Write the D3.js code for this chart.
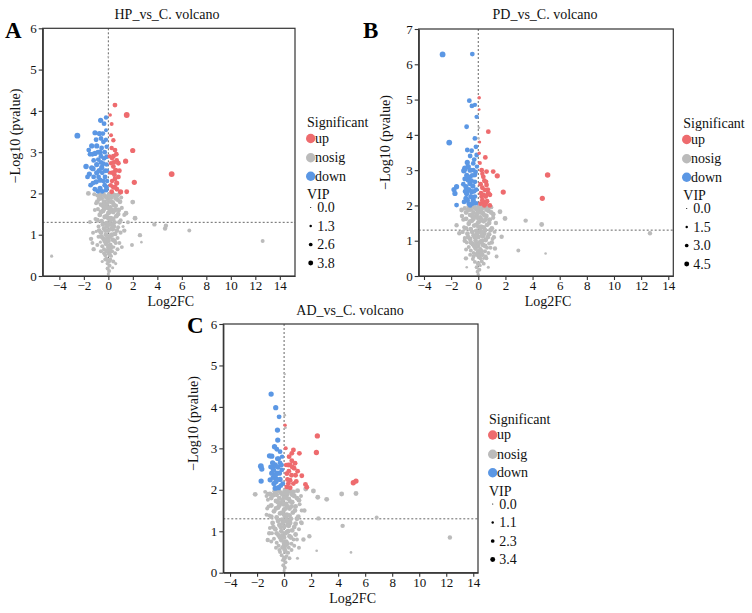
<!DOCTYPE html>
<html>
<head>
<meta charset="utf-8">
<script src="https://cdn.jsdelivr.net/npm/d3@7/dist/d3.min.js"></script>
<style>
  html, body { margin: 0; padding: 0; background: #fff; }
  svg { display: block; font-family: "Liberation Serif", "Times New Roman", serif; }
</style>
</head>
<body>
<svg id="chart" width="752" height="613"></svg>
<script>
// ---------------- DATA ----------------
const xTicks = [-4, -2, 0, 2, 4, 6, 8, 10, 12, 14];
const yTicksA = [0, 1, 2, 3, 4, 5, 6];
const yTicksB = [0, 1, 2, 3, 4, 5, 6, 7];
const yTicksC = [0, 1, 2, 3, 4, 5, 6];
const sigLevels = ["up", "nosig", "down"];
const vipBreaksA = ["0.0", "1.3", "2.6", "3.8"];
const vipBreaksB = ["0.0", "1.5", "3.0", "4.5"];
const vipBreaksC = ["0.0", "1.1", "2.3", "3.4"];
const pThreshold = 1.3;   // -log10(0.05)

// points: [log2FC, -log10(p), VIP]
const upA = [[0.54,4.14,3.0],[1.50,3.90,3.8],[0.27,3.68,2.2],[0.22,3.41,2.2],[0.41,3.29,2.6],[1.99,3.04,3.3],[0.54,3.05,3.0],[0.41,2.90,3.0],[0.68,2.80,3.0],[1.41,2.78,3.3],[0.82,2.73,3.0],[0.41,2.65,3.0],[0.60,2.56,3.3],[0.82,2.40,3.0],[0.54,2.35,3.0],[5.17,2.47,3.8],[2.12,2.27,3.3],[0.68,2.25,3.3],[1.00,2.04,3.3],[1.50,2.04,3.0],[0.41,2.15,3.0],[0.27,2.04,3.0],[0.22,2.73,2.6],[0.27,3.10,2.6],[0.15,2.50,2.2],[0.30,2.30,2.6],[0.90,2.55,3.0],[0.15,3.90,1.8],[0.10,2.90,2.2],
[0.50,2.45,3.0],[0.35,2.50,3.0],[0.70,2.10,3.0],[0.45,2.75,3.0],[0.30,2.85,2.6],[0.65,2.95,3.0],[0.20,2.20,2.6],[0.55,2.15,3.0]];
const downA = [[-2.53,3.40,3.85],[-0.63,3.77,3.3],[-0.19,3.84,2.6],[-0.35,3.69,3.0],[-1.09,3.47,3.3],[-0.73,3.45,3.3],[-0.60,3.33,3.0],[-0.19,3.53,2.2],[-1.36,3.15,3.3],[-0.95,3.15,3.3],[-0.40,3.25,3.0],[-1.50,2.95,3.0],[-1.09,2.97,3.3],[-0.68,3.00,3.3],[-0.14,3.13,2.6],[-1.82,2.65,3.5],[-1.36,2.62,3.3],[-1.55,2.47,3.3],[-0.95,2.50,3.3],[-0.54,2.63,3.3],[-1.00,2.28,3.3],[-0.68,2.32,3.3],[-0.27,2.40,3.0],[-0.68,2.12,3.3],[-0.19,2.08,3.0],[-0.41,2.72,3.0],[-0.14,2.89,3.0],[-0.82,2.82,3.0],[-0.30,2.20,3.0],[-0.50,2.05,3.0],[-0.25,2.55,3.0],[-0.85,2.05,3.0],[-1.20,2.40,3.0],[-0.60,2.90,3.0],[-0.30,3.00,3.0],[-0.50,2.50,3.0],[-0.10,2.30,2.6],[-0.15,2.70,2.6],[-1.20,2.80,3.0],[-0.45,3.45,3.0],[-0.20,3.30,2.6],
[-1.60,3.05,3.0],[-1.25,2.60,3.3],[-1.70,2.40,3.0],[-1.45,2.20,3.0],[-1.10,2.10,3.0],[-0.95,2.70,3.3],[-0.75,2.55,3.3],[-1.00,3.30,3.0],[-0.55,3.10,3.0],[-0.35,2.85,3.0],[-0.10,2.55,2.6],[-0.40,2.30,3.0],[-0.60,2.75,3.0],[-1.30,2.95,3.0],[-0.85,3.00,3.0],[-0.15,2.15,3.0],[-1.25,2.25,3.0],[-0.80,2.40,3.0]];
const nosigA = [[0.00,5.31,0.4],[0.05,5.02,0.4],[0.05,4.82,0.4],[0.02,4.50,0.3],[-1.63,2.00,3.0],[1.99,1.79,3.0],[2.18,1.40,3.0],[1.44,1.52,3.0],[3.76,1.25,2.6],[4.63,1.15,2.6],[4.70,1.22,2.6],[6.61,1.10,2.2],[12.60,0.85,2.2],[-4.63,0.48,1.5],[2.58,0.99,2.6],[2.70,0.82,1.0],[1.93,0.75,2.2],[-1.41,0.90,2.6],[-1.50,1.31,2.2],[-1.30,0.80,2.2],[-1.20,0.65,2.6],[1.30,1.10,2.6],[1.60,1.30,2.2],[-1.25,1.05,2.2],[1.10,0.70,2.2],[0.60,0.30,1.5],[-0.50,0.35,1.5],[0.35,0.20,1.5],
[0.00,0.05,1.5],[0.06,0.12,2.3],[-0.06,0.18,2.3],[0.10,0.25,2.3],[-0.10,0.30,1.5],[0.02,0.35,3.0],[0.15,0.40,2.3],[-0.15,0.42,2.3],[0.25,0.48,1.5],[-0.25,0.50,2.3],
[0.05,0.55,3.0],[-0.05,0.62,3.0],[0.30,0.60,2.3],[-0.35,0.65,2.3],[0.45,0.70,1.5],[-0.50,0.72,2.3],[0.15,0.75,3.0],[-0.20,0.78,3.0],[0.60,0.80,2.3],[-0.65,0.82,1.5],
[0.00,0.85,3.0],[0.35,0.88,3.0],[-0.40,0.90,3.0],[0.75,0.92,2.3],[-0.80,0.95,2.3],[0.20,0.98,3.0],[-0.20,1.00,3.0],[0.55,1.02,3.0],[-0.60,1.05,3.0],[1.00,1.05,2.3],[-1.00,1.08,1.5],[0.00,1.10,3.0],
[0.35,1.13,3.0],[-0.35,1.15,3.0],[0.80,1.18,2.3],[-0.80,1.20,2.3],[1.20,1.20,1.5],[0.10,1.25,3.0],[-0.15,1.28,3.0],[0.50,1.30,3.0],[-0.55,1.33,3.0],[1.00,1.35,2.3],[-1.05,1.38,2.3],[0.20,1.40,3.0],[-0.30,1.43,3.0],[0.65,1.45,3.0],[-0.70,1.48,3.0],[1.30,1.48,2.3],
[0.00,1.52,3.0],[0.40,1.55,3.0],[-0.45,1.57,3.0],[0.85,1.60,3.0],[-0.85,1.62,2.3],[0.15,1.66,3.0],[-0.20,1.69,3.0],[0.60,1.70,3.0],[-0.60,1.73,3.0],[-1.00,1.76,2.3],[0.35,1.78,3.0],[-0.35,1.80,3.0],[0.00,1.83,3.0],[0.75,1.85,3.0],[-0.75,1.87,3.0],[0.25,1.90,3.0],[-0.25,1.93,3.0],[0.50,1.96,3.0],[-0.50,1.98,3.0],[0.05,1.97,3.0],[-0.90,1.95,2.3],[0.85,1.98,2.3],
[0.10,0.65,3.0],[-0.10,0.90,3.0],[0.10,1.55,3.0],[-0.10,1.20,3.0],[0.45,1.20,3.0],[-0.45,1.70,3.0],[0.25,1.60,3.0],[-0.25,0.40,2.3],[0.30,1.00,3.0],[0.20,1.80,3.0],[-0.15,1.90,3.0],[0.15,1.35,3.0],
[0.40,0.35,2.3],[-0.35,0.55,2.3],[0.55,0.55,2.3],[-0.60,0.60,2.3],[0.75,0.65,2.3],[0.25,0.70,3.0],[-0.30,0.85,3.0],[0.50,0.85,3.0],[-0.55,0.95,3.0],[0.90,0.80,2.3],[-0.90,0.75,2.3],[0.10,0.95,3.0],[0.70,1.10,3.0],[-0.75,1.10,3.0],[0.25,1.15,3.0],[-0.45,1.25,3.0],[0.90,1.30,3.0],[-0.90,1.35,3.0],[0.40,1.38,3.0],[-0.15,1.45,3.0],[0.80,1.50,3.0],[-0.60,1.55,3.0],[0.55,1.60,3.0],[-0.35,1.62,3.0],[1.10,1.65,2.3],[-1.10,1.60,2.3],[0.45,1.72,3.0],[-0.90,1.80,3.0],[0.95,1.80,3.0],[-0.55,1.88,3.0],[0.60,1.88,3.0],[-0.10,1.75,3.0],[0.10,1.92,3.0],[-0.70,1.96,3.0],[0.70,1.95,3.0],[-0.40,1.98,3.0],[0.35,1.98,3.0],[-1.15,1.98,2.3],[1.05,1.90,2.3],[0.00,0.70,3.0],[0.00,1.40,3.0],[-0.05,1.65,3.0],[0.30,1.25,3.0],[-0.25,1.10,3.0],[0.15,0.50,2.3],[-0.15,0.60,2.3]];

const upB = [[0.07,5.05,2.1],[0.07,4.72,1.2],[0.74,4.09,3.5],[0.52,3.36,3.5],[0.07,3.48,2.1],[1.10,2.96,3.5],[1.40,2.84,3.9],[5.11,2.86,4.2],[1.84,2.38,3.9],[4.72,2.20,3.9],[0.61,2.96,3.5],[0.25,3.00,3.5],[0.37,2.81,3.5],[0.57,2.67,3.5],[0.74,2.34,3.9],[0.49,2.44,3.5],[0.25,2.25,3.5],[0.37,2.10,3.5],[0.61,2.58,3.5],[0.86,2.30,3.5],[0.17,2.60,3.5],[0.17,2.05,3.5],[0.65,2.12,3.5],[0.30,2.90,3.1],[0.12,3.20,2.6],[0.45,2.00,3.5],[0.85,2.00,3.5],[0.10,3.80,1.7],
[0.40,2.30,3.5],[0.55,2.25,3.5],[0.30,2.50,3.5],[0.45,2.70,3.5],[0.20,2.35,3.5],[0.70,2.45,3.5],[0.55,2.05,3.5],[0.30,2.15,3.5]];
const downB = [[-2.63,6.28,4.5],[-0.44,6.29,3.5],[-0.66,4.97,3.5],[-0.47,4.82,3.5],[-0.25,4.85,3.1],[-0.12,4.51,3.1],[-0.86,4.23,3.5],[-2.14,3.78,4.5],[-0.25,3.90,3.5],[-0.17,3.66,3.5],[-0.81,3.57,3.5],[-0.49,3.55,3.5],[-0.12,3.43,3.5],[-0.81,3.22,3.9],[-0.37,3.19,3.5],[-0.98,3.05,4.5],[-1.06,2.98,4.2],[-0.74,3.10,3.9],[-0.37,3.00,3.5],[-0.25,2.86,3.5],[-0.61,2.81,3.5],[-1.60,2.53,3.9],[-1.79,2.45,3.9],[-1.72,2.34,3.9],[-1.60,2.01,3.5],[-0.86,2.34,3.9],[-0.81,2.15,3.9],[-0.91,2.53,3.9],[-0.61,2.62,3.9],[-0.25,2.67,3.5],[-0.49,2.39,3.9],[-0.37,2.15,3.9],[-0.17,2.06,3.5],[-0.74,2.72,3.9],[-0.25,2.25,3.5],[-0.91,2.20,3.9],[-0.60,2.00,3.5],[-0.15,2.45,3.5],[-0.45,2.85,3.5],[-1.00,2.75,3.5],[-0.30,3.30,3.5],[-0.60,3.40,3.5],[-0.10,3.10,3.1],
[-0.55,2.25,3.9],[-0.70,2.45,3.9],[-0.40,2.55,3.9],[-0.95,2.40,3.9],[-1.05,2.10,3.5],[-0.50,2.70,3.5],[-0.85,2.85,3.9],[-0.30,2.40,3.5],[-0.70,2.05,3.5],[-0.45,2.05,3.5],[-0.60,3.00,3.9],[-1.10,2.60,3.5],[-0.20,2.95,3.5]];
const nosigB = [[-1.23,1.87,3.5],[1.60,1.82,3.5],[1.97,1.63,3.5],[3.49,1.57,3.1],[4.67,1.46,3.5],[12.65,1.21,3.1],[2.95,0.72,2.6],[4.96,0.64,1.2],[-1.60,1.44,3.1],[-1.40,1.21,3.1],[1.72,1.11,3.1],[1.23,0.78,3.1],[1.35,0.55,2.6],[-0.91,0.50,3.1],[0.74,0.25,1.7],[-0.85,0.25,1.2],[0.60,0.50,2.6],[-1.20,1.70,3.1],[1.30,1.50,3.1],[-1.00,1.00,3.1],[1.00,0.95,3.1],[0.05,4.20,1.2],[0.02,3.90,1.2],
[0.00,0.05,1.7],[-0.05,0.12,2.6],[0.08,0.18,2.6],[-0.12,0.25,2.6],[0.15,0.30,1.7],[0.00,0.35,3.5],[-0.25,0.40,2.6],[0.25,0.42,2.6],[-0.40,0.48,2.6],[0.40,0.50,1.7],
[0.05,0.55,3.5],[-0.10,0.62,3.5],[0.30,0.60,3.5],[-0.35,0.65,2.6],[0.50,0.70,2.6],[-0.55,0.72,2.6],[0.15,0.75,3.5],[-0.20,0.78,3.5],[0.65,0.80,2.6],[-0.70,0.82,2.6],
[0.00,0.85,3.5],[0.35,0.88,3.5],[-0.40,0.90,3.5],[0.80,0.92,2.6],[-0.85,0.95,2.6],[0.20,0.98,3.5],[-0.20,1.00,3.5],[0.55,1.02,3.5],[-0.60,1.05,3.5],[1.05,1.05,2.6],[-1.00,1.08,2.6],[0.00,1.10,3.5],
[0.35,1.13,3.5],[-0.35,1.15,3.5],[0.80,1.18,3.5],[-0.80,1.20,3.5],[1.20,1.25,2.6],[0.10,1.25,3.5],[-0.15,1.28,3.5],[0.50,1.30,3.5],[-0.55,1.33,3.5],[1.00,1.35,3.5],[-1.05,1.38,2.6],[0.20,1.40,3.5],[-0.30,1.43,3.5],[0.65,1.45,3.5],[-0.70,1.48,3.5],
[0.00,1.52,3.5],[0.40,1.55,3.5],[-0.45,1.57,3.5],[0.85,1.60,3.5],[-0.90,1.62,3.5],[0.15,1.66,3.5],[-0.20,1.69,3.5],[0.60,1.70,3.5],[-0.60,1.73,3.5],[1.10,1.75,3.5],[0.35,1.78,3.5],[-0.35,1.80,3.5],[0.00,1.83,3.5],[0.75,1.85,3.5],[-0.75,1.87,3.5],[0.25,1.90,3.5],[-0.25,1.93,3.5],[0.50,1.96,3.5],[-0.50,1.98,3.5],[0.05,1.97,3.5],[-1.00,1.92,3.0],[0.95,1.95,3.0],
[0.10,0.65,3.5],[-0.10,0.90,3.5],[0.10,1.55,3.5],[-0.10,1.20,3.5],[0.45,1.20,3.5],[-0.45,1.70,3.5],[0.25,1.60,3.5],[0.30,1.00,3.5],[0.20,1.80,3.5],[-0.15,1.90,3.5],[0.15,1.35,3.5],
[0.40,0.35,2.6],[-0.35,0.55,2.6],[0.55,0.55,2.6],[-0.60,0.60,2.6],[0.75,0.65,2.6],[0.25,0.70,3.5],[-0.30,0.85,3.5],[0.50,0.85,3.5],[-0.55,0.95,3.5],[0.90,0.80,2.6],[-0.90,0.75,2.6],[0.10,0.95,3.5],[0.70,1.10,3.5],[-0.75,1.10,3.5],[0.25,1.15,3.5],[-0.45,1.25,3.5],[0.90,1.30,3.5],[-0.90,1.35,3.5],[0.40,1.38,3.5],[-0.15,1.45,3.5],[0.80,1.50,3.5],[-0.60,1.55,3.5],[0.55,1.60,3.5],[-0.35,1.62,3.5],[1.10,1.65,3.0],[-1.10,1.60,3.0],[0.45,1.72,3.5],[-0.90,1.80,3.5],[0.95,1.80,3.5],[-0.55,1.88,3.5],[0.60,1.88,3.5],[-0.10,1.75,3.5],[0.10,1.92,3.5],[-0.70,1.96,3.5],[0.70,1.95,3.5],[-0.40,1.98,3.5],[0.35,1.98,3.5],[0.00,0.70,3.5],[0.00,1.40,3.5],[-0.05,1.65,3.5],[0.30,1.25,3.5],[-0.25,1.10,3.5],[0.15,0.50,2.6],[-0.15,0.60,2.6],[1.15,1.10,3.0],[-1.15,1.25,3.0]];

const upC = [[0.07,3.56,1.6],[2.46,3.30,3.0],[2.39,2.90,3.0],[0.69,2.96,2.7],[0.57,2.88,2.7],[1.13,2.88,2.7],[0.37,2.80,2.7],[0.57,2.70,2.7],[0.81,2.64,2.7],[0.44,2.60,2.7],[0.74,2.52,2.7],[1.31,2.34,2.7],[1.58,2.13,2.7],[1.68,2.06,2.7],[5.12,2.17,3.0],[5.32,2.21,3.0],[0.20,2.39,2.7],[0.44,2.23,2.7],[0.69,2.15,2.7],[0.32,2.15,2.7],[0.20,2.07,2.7],[0.15,2.60,2.35],[0.90,2.20,2.7],[0.12,3.00,2.0],[1.00,2.45,2.7],
[0.35,2.45,2.7],[0.55,2.35,2.7],[0.30,2.60,2.7],[0.60,2.55,2.7],[0.45,2.05,2.7],[0.85,2.35,2.7],[0.25,2.25,2.7]];
const downC = [[-0.96,4.31,3.0],[-0.62,3.98,3.0],[-0.37,3.76,2.7],[-0.49,3.44,3.0],[-0.47,3.20,3.0],[-0.71,3.04,3.0],[-0.54,2.98,2.7],[-1.08,2.82,3.0],[-0.91,2.81,3.0],[-0.30,2.92,2.7],[-0.40,2.75,2.7],[-1.72,2.57,3.4],[-1.65,2.50,3.0],[-1.70,2.21,3.0],[-1.03,2.24,3.0],[-0.54,2.40,3.0],[-0.17,2.48,2.7],[-0.79,2.56,3.0],[-0.66,2.60,3.0],[-0.91,2.40,3.0],[-0.79,2.48,3.0],[-0.66,2.04,3.0],[-0.42,2.05,3.0],[-0.10,2.15,2.7],[-0.20,2.60,2.7],[-1.00,2.55,2.7],[-0.30,2.25,3.0],[-0.60,2.20,3.0],[-0.15,2.80,2.35],[-0.80,2.30,3.0],
[-0.55,2.25,3.0],[-0.75,2.15,3.0],[-0.45,2.55,3.0],[-0.35,2.40,3.0],[-0.25,2.10,2.7],[-0.65,2.35,3.0],[-0.50,2.75,2.7],[-0.85,2.65,3.0],[-0.30,2.65,2.7]];
const nosigC = [[0.05,4.79,0.7],[0.05,3.80,1.0],[0.10,3.50,1.0],[-2.14,1.89,2.7],[1.60,2.02,2.7],[2.17,1.97,2.7],[2.49,1.82,2.7],[3.15,1.77,2.7],[4.26,1.90,2.7],[5.32,1.91,2.7],[2.54,1.31,2.35],[6.85,1.33,2.0],[4.33,1.13,2.35],[12.27,0.85,2.35],[2.41,0.53,1.0],[4.95,0.49,1.0],[1.87,0.88,2.35],[1.43,0.80,2.35],[-1.21,0.79,2.35],[0.99,0.35,1.3],[-1.10,0.95,2.35],[1.30,1.20,2.35],[-1.30,1.40,2.0],[1.50,1.50,2.35],[-1.20,1.90,2.35],[1.10,0.60,2.0],
[0.00,0.05,1.3],[0.05,0.12,2.0],[-0.06,0.18,2.0],[0.10,0.25,2.0],[-0.12,0.30,1.3],[0.02,0.35,2.7],[0.18,0.40,2.0],[-0.18,0.42,2.0],[0.30,0.48,2.0],[-0.30,0.50,2.0],
[0.05,0.55,2.7],[-0.05,0.62,2.7],[0.35,0.60,2.0],[-0.40,0.65,2.0],[0.55,0.70,2.0],[-0.55,0.72,2.0],[0.15,0.75,2.7],[-0.20,0.78,2.7],[0.70,0.80,2.0],[-0.75,0.82,2.0],
[0.00,0.85,2.7],[0.40,0.88,2.7],[-0.40,0.90,2.7],[0.85,0.92,2.7],[-0.90,0.95,2.0],[0.20,0.98,2.7],[-0.20,1.00,2.7],[0.60,1.02,2.7],[-0.65,1.05,2.7],[1.10,1.05,2.0],[-1.05,1.08,2.0],[0.00,1.10,2.7],
[0.35,1.13,2.7],[-0.35,1.15,2.7],[0.85,1.18,2.7],[-0.85,1.20,2.7],[1.25,1.22,2.0],[0.10,1.25,2.7],[-0.15,1.28,2.7],[0.50,1.30,2.7],[-0.55,1.33,2.7],[1.05,1.35,2.7],[-1.10,1.38,2.0],[0.20,1.40,2.7],[-0.30,1.43,2.7],[0.65,1.45,2.7],[-0.75,1.48,2.7],[1.30,1.50,2.0],
[0.00,1.52,2.7],[0.40,1.55,2.7],[-0.45,1.57,2.7],[0.85,1.60,2.7],[-0.95,1.62,2.7],[0.15,1.66,2.7],[-0.20,1.69,2.7],[0.60,1.70,2.7],[-0.60,1.73,2.7],[-1.20,1.76,2.0],[1.10,1.75,2.7],[0.35,1.78,2.7],[-0.35,1.80,2.7],[0.00,1.83,2.7],[0.75,1.85,2.7],[-0.80,1.87,2.7],[0.25,1.90,2.7],[-0.25,1.93,2.7],[0.50,1.96,2.7],[-0.50,1.98,2.7],[0.05,1.97,2.7],[-1.40,1.95,2.0],[1.00,1.98,2.7],[-1.05,1.90,2.7],
[0.10,0.65,2.7],[-0.10,0.90,2.7],[0.10,1.55,2.7],[-0.10,1.20,2.7],[0.45,1.20,2.7],[-0.45,1.70,2.7],[0.25,1.60,2.7],[0.30,1.00,2.7],[0.20,1.80,2.7],[-0.15,1.90,2.7],[0.15,1.35,2.7],
[0.40,0.35,2.0],[-0.35,0.55,2.0],[0.55,0.55,2.0],[-0.60,0.60,2.0],[0.75,0.65,2.0],[0.25,0.70,2.7],[-0.30,0.85,2.7],[0.50,0.85,2.7],[-0.55,0.95,2.7],[0.95,0.80,2.0],[-0.95,0.75,2.0],[0.10,0.95,2.7],[0.75,1.10,2.7],[-0.80,1.10,2.7],[0.25,1.15,2.7],[-0.45,1.25,2.7],[0.95,1.30,2.7],[-0.95,1.35,2.7],[0.40,1.38,2.7],[-0.15,1.45,2.7],[0.80,1.50,2.7],[-0.60,1.55,2.7],[0.55,1.60,2.7],[-0.35,1.62,2.7],[1.15,1.65,2.0],[-1.15,1.60,2.0],[0.45,1.72,2.7],[-0.95,1.80,2.7],[0.95,1.80,2.7],[-0.55,1.88,2.7],[0.60,1.88,2.7],[-0.10,1.75,2.7],[0.10,1.92,2.7],[-0.70,1.96,2.7],[0.70,1.95,2.7],[-0.40,1.98,2.7],[0.35,1.98,2.7],[0.00,0.70,2.7],[0.00,1.40,2.7],[-0.05,1.65,2.7],[0.30,1.25,2.7],[-0.25,1.10,2.7],[0.15,0.50,2.0],[-0.15,0.60,2.0],[-1.25,1.55,2.0],[1.25,1.85,2.0],[-1.30,1.85,2.0]];

// ---------------- STYLE / LAYOUT ----------------
const colors = { up: "#EE6B6E", nosig: "#BBBBBB", down: "#5B97E4" };
const SERIF = '"Liberation Serif", "Times New Roman", serif';
const FONT_TICK = 13, FONT_LAB = 14;

const panels = [
  { letter: "A", title: "HP_vs_C. volcano", box: [42.7, 28.3, 295, 276], xDom: [-5.36, 15.24], yDom: [0, 6],
    yTicks: yTicksA, vip: vipBreaksA, up: upA, down: downA, nosig: nosigA,
    letterPos: [5, 38], titleX: 167, titleY: 19, yLab: [15, 136], xLabY: 306,
    leg: { x: 307, cx: 310.7, base: 128.5 } },
  { letter: "B", title: "PD_vs_C. volcano", box: [418.7, 29, 673.3, 276], xDom: [-4.39, 14.37], yDom: [0, 7],
    yTicks: yTicksB, vip: vipBreaksB, up: upB, down: downB, nosig: nosigB,
    letterPos: [363, 38], titleX: 545, titleY: 19, yLab: [385, 142.5], xLabY: 306,
    leg: { x: 683.3, cx: 686.7, base: 129.5 } },
  { letter: "C", title: "AD_vs_C. volcano", box: [223.3, 324, 478, 572.7], xDom: [-4.5, 14.35], yDom: [0, 6],
    yTicks: yTicksC, vip: vipBreaksC, up: upC, down: downC, nosig: nosigC,
    letterPos: [187, 333], titleX: 350, titleY: 315, yLab: [193, 423.5], xLabY: 603,
    leg: { x: 489, cx: 492.7, base: 425 } }
];

const svg = d3.select("#chart");

panels.forEach(p => {
  const [x0, y0, x1, y1] = p.box;
  const x = d3.scaleLinear().domain(p.xDom).range([x0, x1]);
  const y = d3.scaleLinear().domain(p.yDom).range([y1, y0]);
  const vmax = +p.vip[p.vip.length - 1];
  const r = d3.scaleLinear().domain([0, vmax]).range([0.7, 2.9]);
  const g = svg.append("g");

  // threshold lines
  g.append("line").attr("x1", x0).attr("x2", x1).attr("y1", y(pThreshold)).attr("y2", y(pThreshold))
    .attr("stroke", "#555").attr("stroke-width", 0.9).attr("stroke-dasharray", "2,2");
  g.append("line").attr("x1", x(0)).attr("x2", x(0)).attr("y1", y0).attr("y2", y1)
    .attr("stroke", "#555").attr("stroke-width", 0.9).attr("stroke-dasharray", "2,2");

  // points
  const groups = [["nosig", p.nosig], ["down", p.down], ["up", p.up]];
  groups.forEach(([key, arr]) => {
    g.append("g").selectAll("circle").data(arr).join("circle")
      .attr("cx", d => x(d[0])).attr("cy", d => y(d[1])).attr("r", d => r(d[2]))
      .attr("fill", colors[key]);
  });

  // frame
  g.append("rect").attr("x", x0).attr("y", y0).attr("width", x1 - x0).attr("height", y1 - y0)
    .attr("fill", "none").attr("stroke", "#333").attr("stroke-width", 1.2);

  // axes
  const ax = g.append("g").attr("transform", `translate(0,${y1})`)
    .call(d3.axisBottom(x).tickValues(xTicks).tickSize(4).tickPadding(1).tickSizeOuter(0));
  const ay = g.append("g").attr("transform", `translate(${x0},0)`)
    .call(d3.axisLeft(y).tickValues(p.yTicks).tickSize(4).tickPadding(2).tickSizeOuter(0).tickFormat(d3.format("d")));
  [ax, ay].forEach(a => {
    a.attr("font-family", SERIF).attr("font-size", FONT_TICK);
    a.select(".domain").attr("stroke", "#333").attr("stroke-width", 1.2);
    a.selectAll(".tick line").attr("stroke", "#333").attr("stroke-width", 1.1);
    a.selectAll(".tick text").attr("fill", "#111");
  });

  // titles / labels
  g.append("text").attr("x", p.titleX).attr("y", p.titleY).attr("text-anchor", "middle")
    .style("font-size", FONT_LAB + "px").attr("fill", "#111").text(p.title);
  g.append("text").attr("x", p.letterPos[0]).attr("y", p.letterPos[1])
    .style("font-size", "23px").style("font-weight", "bold").attr("fill", "#000").text(p.letter);
  g.append("text").attr("x", (x0 + x1) / 2 + 2).attr("y", p.xLabY).attr("text-anchor", "middle")
    .style("font-size", FONT_LAB + "px").attr("fill", "#111").text("Log2FC");
  g.append("text").attr("transform", `translate(${p.yLab[0] + 5},${p.yLab[1]}) rotate(-90)`)
    .attr("text-anchor", "middle").style("font-size", FONT_LAB + "px").attr("fill", "#111")
    .text("\u2212Log10 (pvalue)");

  // legend
  const L = p.leg;
  const lg = g.append("g");
  lg.append("text").attr("x", L.x).attr("y", L.base - 1.5).style("font-size", FONT_LAB + "px").attr("fill", "#111").text("Significant");
  const colOff = [10, 29.3, 47.8];
  sigLevels.forEach((s, i) => {
    const cy = L.base + colOff[i];
    lg.append("circle").attr("cx", L.cx).attr("cy", cy).attr("r", 4.7).attr("fill", colors[s]);
    lg.append("text").attr("x", L.cx + 4.3).attr("y", cy + 4.2).style("font-size", FONT_LAB + "px").attr("fill", "#111").text(s);
  });
  lg.append("text").attr("x", L.x).attr("y", L.base + 70.5).style("font-size", FONT_LAB + "px").attr("fill", "#111").text("VIP");
  const sizeOff = [79, 97.5, 116, 134.5];
  p.vip.forEach((v, i) => {
    const cy = L.base + sizeOff[i];
    lg.append("circle").attr("cx", L.cx).attr("cy", cy).attr("r", r(+v) * 0.85).attr("fill", "#000");
    lg.append("text").attr("x", L.cx + 6.5).attr("y", cy + 4.7).style("font-size", FONT_LAB + "px").attr("fill", "#111").text(v);
  });
});
</script>
</body>
</html>
